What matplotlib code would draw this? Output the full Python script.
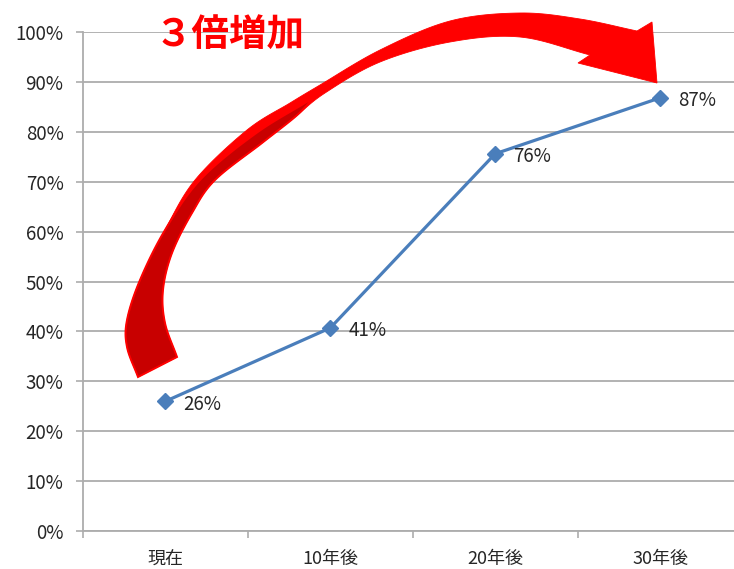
import numpy as np
import matplotlib
matplotlib.use("Agg")
from matplotlib import pyplot as plt
from matplotlib.patches import Polygon
from matplotlib import transforms as mtransforms

plt.rcParams['font.family'] = ['Noto Sans CJK JP', 'DejaVu Sans']

categories = ['現在', '10年後', '20年後', '30年後']
values = [0.26, 0.407, 0.756, 0.868]
labels = ['26%', '41%', '76%', '87%']
yticks = [0.0, 0.1, 0.2, 0.3, 0.4, 0.5, 0.6, 0.7, 0.8, 0.9, 1.0]
title_text = '３倍増加'

W, H = 734, 569
grid_col = '#adadad'
line_col = '#4a7ebb'


def smooth(pts, n=14):
    # catmull-rom through the given outline points
    p = np.array(pts, float)
    p = np.vstack([2 * p[0] - p[1], p, 2 * p[-1] - p[-2]])
    out = []
    t = np.linspace(0, 1, n, endpoint=False)[:, None]
    for i in range(1, len(p) - 2):
        p0, p1, p2, p3 = p[i - 1], p[i], p[i + 1], p[i + 2]
        out.append(0.5 * (2 * p1 + (-p0 + p2) * t
                          + (2 * p0 - 5 * p1 + 4 * p2 - p3) * t ** 2
                          + (-p0 + 3 * p1 - 3 * p2 + p3) * t ** 3))
    out.append(p[-2][None])
    return np.vstack(out)


fig = plt.figure(figsize=(W / 100, H / 100), dpi=100)
ax = fig.add_axes([83 / W, 38 / H, 659.5 / W, 499 / H])

x = np.arange(len(categories))
ax.plot(x, values, color=line_col, lw=2.3, marker='D', markersize=8.5,
        markerfacecolor=line_col, markeredgecolor=line_col, zorder=3,
        clip_on=False)
for xi, v, lab in zip(x, values, labels):
    ax.annotate(lab, (xi, v), xytext=(13, -2), textcoords='offset points',
                ha='left', va='center', fontsize=13.5, color='#262626')

ax.set_xlim(-0.5, len(categories) - 0.5)
ax.set_ylim(0, 1)
ax.set_yticks(yticks)
ax.set_yticklabels(['%d%%' % round(v * 100) for v in yticks])
ax.set_xticks(x)
ax.set_xticklabels(categories)
ax.set_xticks(np.arange(len(categories) + 1) - 0.5, minor=True)
ax.tick_params(axis='x', which='major', length=0, pad=14, labelsize=13,
               labelcolor='#262626')
ax.tick_params(axis='x', which='minor', length=5, width=1.2, color=grid_col)
ax.tick_params(axis='y', length=5, width=1.2, color=grid_col, pad=9,
               labelsize=13.5, labelcolor='#262626')
ax.yaxis.grid(True, color=grid_col, lw=1.3)
ax.set_axisbelow(True)
for s in ['top', 'right']:
    ax.spines[s].set_visible(False)
for s in ['left', 'bottom']:
    ax.spines[s].set_color(grid_col)
    ax.spines[s].set_linewidth(1.3)

# big curved arrow, drawn in figure pixels (top-left origin)
px = mtransforms.Affine2D().scale(1 / W, -1 / H).translate(0, 1) + fig.transFigure

band_out = [(138, 377), (127, 347), (127, 320), (140, 280), (165, 230),
            (195, 180), (247, 130), (290, 103), (320, 85), (380, 50),
            (450, 21), (520, 13), (580, 19), (637, 31)]
head = [(652, 22), (657, 83), (578, 63)]
band_in = [(590, 55), (520, 37), (450, 42), (380, 62), (325, 93),
           (295, 117), (262, 143), (215, 180), (192, 213), (172, 253),
           (163, 290), (165, 323), (177, 357)]
band = np.vstack([smooth(band_out), np.array(head, float), smooth(band_in)])
fig.add_artist(Polygon(band, closed=True, transform=px, facecolor='#ff0000',
                       edgecolor='#ff0000', lw=0.6, zorder=5))

dark_out = [(138, 377), (127, 347), (127, 320), (140, 280), (165, 230),
            (200, 180), (255, 134), (310, 100)]
dark_in = [(310, 102), (295, 117), (262, 143), (215, 180), (192, 213),
           (172, 253), (163, 290), (165, 323), (177, 357)]
dark = np.vstack([smooth(dark_out), smooth(dark_in)])
fig.add_artist(Polygon(dark, closed=True, transform=px, facecolor='#c80000',
                       edgecolor='#ff0000', lw=1.4, zorder=6))

fig.text(230 / W, 1 - 34 / H, title_text, color='#ff0000', fontsize=27,
         fontweight='bold', ha='center', va='center')

fig.savefig('out.png', dpi=100)
